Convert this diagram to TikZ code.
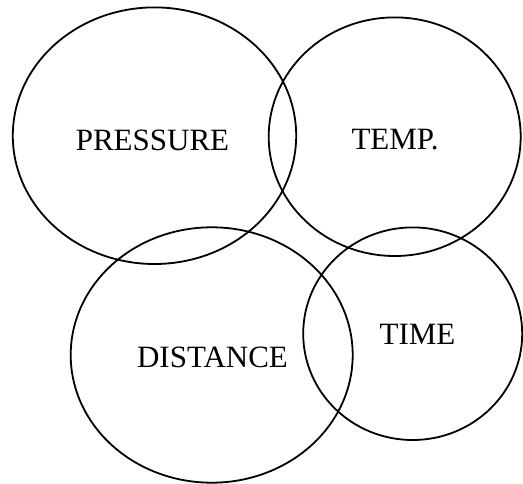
\documentclass[tikz,border=0pt]{standalone}
\usepackage{fontspec}
\setmainfont{Liberation Serif}
\begin{document}
\begin{tikzpicture}[x=1pt,y=-1pt,
  ring/.style={draw=black,line width=1.8pt},
  lbl/.style={inner sep=0pt,font=\fontsize{31}{37}\selectfont}]
\useasboundingbox (0,0) rectangle (523,484);
\draw[ring] (154.5,135.7) ellipse [x radius=141.7, y radius=128.3];
\draw[ring] (394.7,136.7) ellipse [x radius=126, y radius=119.3];
\draw[ring] (211.7,355) ellipse [x radius=141, y radius=127.7];
\draw[ring] (412.7,333.7) ellipse [x radius=109.5, y radius=106.3];
\node[lbl] (pressure) at (152.5,140) {PRESSURE};
\node[lbl] (temp) at (395,139.5) {TEMP.};
\node[lbl] (distance) at (212.5,357.5) {DISTANCE};
\node[lbl] (time) at (417.5,334) {TIME};
\end{tikzpicture}
\end{document}
